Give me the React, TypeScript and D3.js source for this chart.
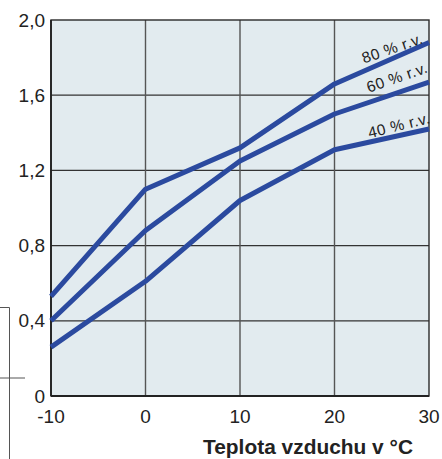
import React from "react";
import * as d3 from "d3";

const temps = [-10, 0, 10, 20, 30];
const rh80 = [0.53, 1.1, 1.32, 1.66, 1.88];
const rh60 = [0.4, 0.88, 1.25, 1.5, 1.67];
const rh40 = [0.26, 0.61, 1.04, 1.31, 1.42];
const seriesLabels = ["80 % r.v.", "60 % r.v.", "40 % r.v."];
const yTicks = [0, 0.4, 0.8, 1.2, 1.6, 2.0];
const xTicks = [-10, 0, 10, 20, 30];
const xTitle = "Teplota vzduchu v °C";

const W = 442;
const H = 459;
const M = { left: 51, top: 20, right: 13, bottom: 63 };
const BLUE = "#2b4a9f";
const FONT = "'Liberation Sans', Arial, sans-serif";

export default function App() {
  const x = d3.scaleLinear().domain([-10, 30]).range([M.left, W - M.right]);
  const y = d3.scaleLinear().domain([0, 2]).range([H - M.bottom, M.top]);
  const line = d3
    .line<number>()
    .x((_, i) => x(temps[i]))
    .y((d) => y(d))
    .curve(d3.curveLinear);
  const series = [rh80, rh60, rh40];
  const fmt = (v: number) => (v === 0 ? "0" : v.toFixed(1).replace(".", ","));
  // label centres in data units
  const labelPos = [
    { t: 26.1, v: 1.85, rot: -19 },
    { t: 26.6, v: 1.695, rot: -19 },
    { t: 26.8, v: 1.44, rot: -14 },
  ];
  return (
    <svg
      width={W}
      height={H}
      style={{ position: "absolute", left: 0, top: 0, background: "#fff" }}
    >
      {/* cropped bracket remnant */}
      <g stroke="#555" strokeWidth={1} fill="none">
        <line x1={0} y1={307.5} x2={9.5} y2={307.5} />
        <line x1={9.5} y1={307.5} x2={9.5} y2={H} />
        <line x1={0} y1={378} x2={25} y2={378} />
      </g>
      <rect
        x={M.left}
        y={M.top}
        width={W - M.left - M.right}
        height={H - M.top - M.bottom}
        fill="#e2ebef"
      />
      {yTicks.slice(1, -1).map((v) => (
        <line
          key={"gy" + v}
          x1={M.left}
          x2={W - M.right}
          y1={y(v)}
          y2={y(v)}
          stroke="#333"
          strokeWidth={1.2}
        />
      ))}
      {xTicks.slice(1, -1).map((v) => (
        <line
          key={"gx" + v}
          x1={x(v)}
          x2={x(v)}
          y1={M.top}
          y2={H - M.bottom}
          stroke="#555"
          strokeWidth={1.4}
        />
      ))}
      <rect
        x={M.left}
        y={M.top}
        width={W - M.left - M.right}
        height={H - M.top - M.bottom}
        fill="none"
        stroke="#2a2a2a"
        strokeWidth={1.4}
      />
      <line x1={M.left} x2={M.left} y1={M.top} y2={H - M.bottom} stroke="#222" strokeWidth={1.8} />
      <line x1={M.left} x2={W - M.right} y1={H - M.bottom} y2={H - M.bottom} stroke="#222" strokeWidth={1.8} />
      {series.map((s, i) => (
        <path
          key={"s" + i}
          d={line(s) || ""}
          fill="none"
          stroke={BLUE}
          strokeWidth={5}
          strokeLinejoin="round"
        />
      ))}
      {seriesLabels.map((lab, i) => {
        const px = x(labelPos[i].t);
        const py = y(labelPos[i].v);
        return (
          <text
            key={"l" + i}
            x={px}
            y={py}
            dy="0.35em"
            transform={`rotate(${labelPos[i].rot},${px},${py})`}
            fontFamily={FONT}
            fontSize={15.5}
            textLength={63}
            lengthAdjust="spacing"
            fill="#222"
            textAnchor="middle"
          >
            {lab}
          </text>
        );
      })}
      {yTicks.map((v) => (
        <text
          key={"ty" + v}
          x={M.left - 6}
          y={y(v)}
          dy="0.35em"
          textAnchor="end"
          fontFamily={FONT}
          fontSize={19}
          fill="#222"
        >
          {fmt(v)}
        </text>
      ))}
      {xTicks.map((v) => (
        <text
          key={"tx" + v}
          x={x(v)}
          y={H - M.bottom + 27}
          textAnchor="middle"
          fontFamily={FONT}
          fontSize={19}
          fill="#222"
        >
          {v}
        </text>
      ))}
      <text
        x={413}
        y={454}
        textAnchor="end"
        fontFamily={FONT}
        fontSize={19.5}
        fontWeight="bold"
        textLength={210}
        lengthAdjust="spacingAndGlyphs"
        fill="#222"
      >
        {xTitle}
      </text>
    </svg>
  );
}
